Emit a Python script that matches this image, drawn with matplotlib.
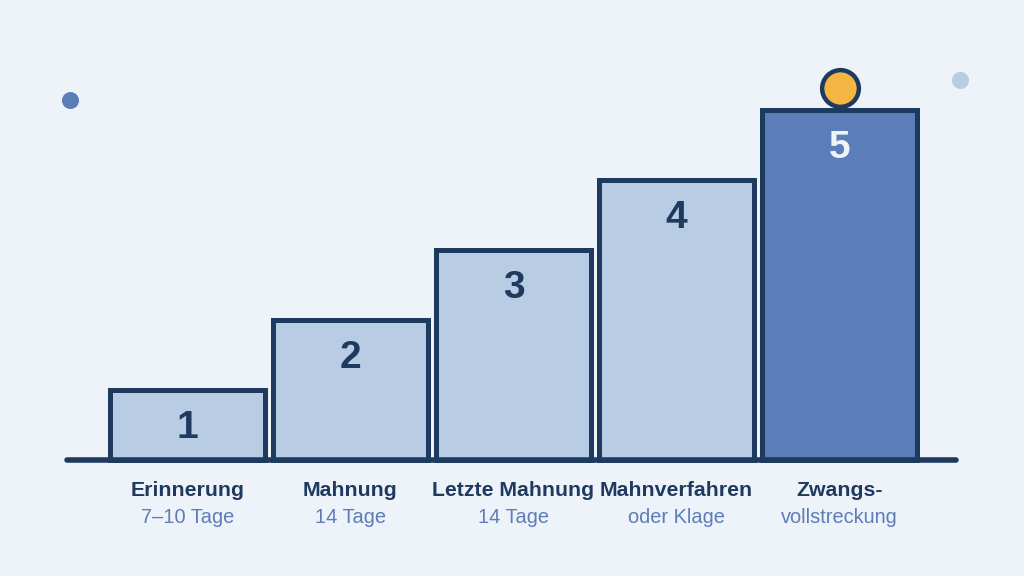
import matplotlib.pyplot as plt

plt.rcParams['font.family'] = ['Liberation Sans', 'DejaVu Sans']

# DATA
steps = [1, 2, 3, 4, 5]
titles = ['Erinnerung', 'Mahnung', 'Letzte Mahnung', 'Mahnverfahren', 'Zwangs-']
subtitles = ['7–10 Tage', '14 Tage', '14 Tage', 'oder Klage', 'vollstreckung']

BG = '#EEF2F9'
NAVY = '#1F3A5F'
LIGHT = '#B8CCE4'
DARK = '#5B7DB8'
ORANGE = '#F4B543'

fig = plt.figure(figsize=(10.24, 5.76), dpi=100, facecolor=BG)
ax = fig.add_axes([0, 0, 1, 1])
ax.set_facecolor(BG)
ax.set_xlim(-1.1503, 5.1319)
ax.set_ylim(-1.657, 6.571)
ax.axis('off')

x = list(range(len(steps)))
colors = [LIGHT] * (len(steps) - 1) + [DARK]
ax.bar(x, steps, width=0.951, color=colors, edgecolor=NAVY, linewidth=3.6, zorder=2)

# baseline
ax.plot([-0.739, 4.715], [0, 0], color=NAVY, linewidth=4, solid_capstyle='round', zorder=3)

for i, v in enumerate(steps):
    tc = BG if i == len(steps) - 1 else NAVY
    ax.text(i, v - 0.55, str(v), ha='center', va='center', fontsize=28,
            fontweight='bold', color=tc, zorder=4)
    ax.text(i, -0.44, titles[i], ha='center', va='center', fontsize=15.3,
            fontweight='bold', color=NAVY)
    ax.text(i, -0.815, subtitles[i], ha='center', va='center', fontsize=14.4,
            color=DARK)

# decorations
ax.scatter([-0.719], [5.14], s=150, color=DARK, linewidths=0, zorder=3)
ax.scatter([4.739], [5.43], s=150, color=LIGHT, linewidths=0, zorder=3)
ax.scatter([4], [5.314], s=700, color=ORANGE, edgecolors=NAVY, linewidths=3.2, zorder=4)

fig.savefig('out.png', dpi=100, facecolor=BG)
